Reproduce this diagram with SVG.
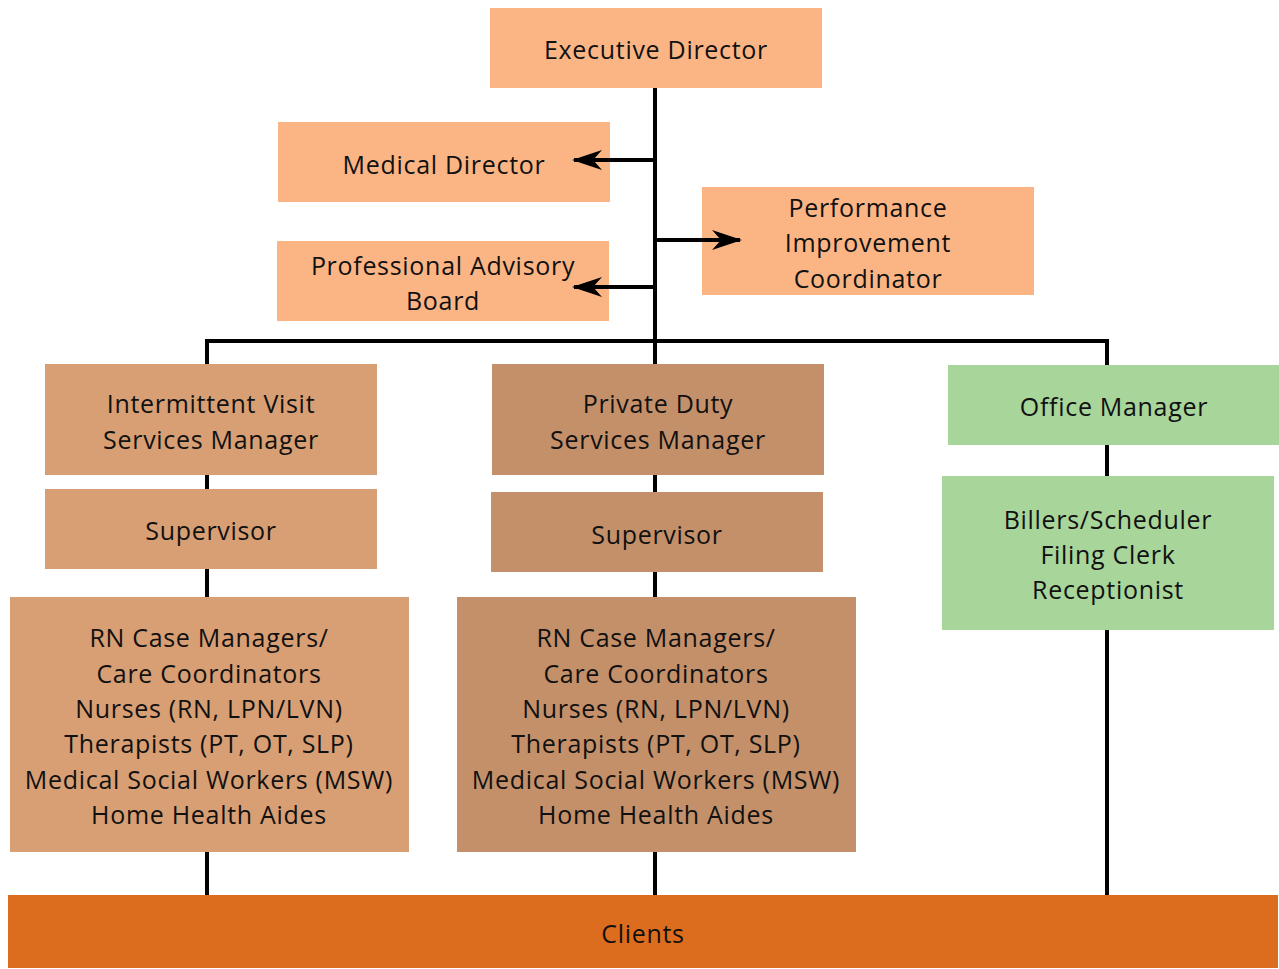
<svg xmlns="http://www.w3.org/2000/svg" width="1279" height="969" viewBox="0 0 1279 969">
<defs>
<style>
.t{font-family:"Open Sans","Noto Sans",sans-serif;font-size:25px;letter-spacing:0.7px;fill:#111;text-anchor:middle;dominant-baseline:central}
.peach{fill:#FBB584}
.tan{fill:#D89F74}
.brown{fill:#C4906A}
.green{fill:#A8D59A}
.ln{stroke:#000;stroke-width:4;fill:none}
</style>
<marker id="ah" viewBox="0 0 30 24" refX="28" refY="12" markerWidth="30" markerHeight="24" markerUnits="userSpaceOnUse" orient="auto">
<path d="M0,2 L30,12 L0,22 L9,12 Z" fill="#000"/>
</marker>
</defs>
<rect width="1279" height="969" fill="#fff"/>
<g id="executive-director"><rect class="peach" x="490" y="8" width="332" height="80"/><text class="t" x="656" y="49">Executive Director</text></g>
<g id="medical-director"><rect class="peach" x="278" y="122" width="332" height="80"/><text class="t" x="444" y="164">Medical Director</text></g>
<g id="professional-advisory-board"><rect class="peach" x="277" y="241" width="332" height="80"/><text class="t" x="443" y="265">Professional Advisory</text><text class="t" x="443" y="300">Board</text></g>
<g id="performance-improvement"><rect class="peach" x="702" y="187" width="332" height="108"/><text class="t" x="868" y="207">Performance</text><text class="t" x="868" y="242">Improvement</text><text class="t" x="868" y="278">Coordinator</text></g>
<g id="intermittent-manager"><rect class="tan" x="45" y="364" width="332" height="111"/><text class="t" x="211" y="403">Intermittent Visit</text><text class="t" x="211" y="439">Services Manager</text></g>
<g id="intermittent-supervisor"><rect class="tan" x="45" y="489" width="332" height="80"/><text class="t" x="211" y="530">Supervisor</text></g>
<g id="intermittent-staff"><rect class="tan" x="10" y="597" width="399" height="255"/>
<text class="t" x="209" y="637">RN Case Managers/</text><text class="t" x="209" y="673">Care Coordinators</text><text class="t" x="209" y="708">Nurses (RN, LPN/LVN)</text><text class="t" x="209" y="743">Therapists (PT, OT, SLP)</text><text class="t" x="209" y="779">Medical Social Workers (MSW)</text><text class="t" x="209" y="814">Home Health Aides</text></g>
<g id="private-manager"><rect class="brown" x="492" y="364" width="332" height="111"/><text class="t" x="658" y="403">Private Duty</text><text class="t" x="658" y="439">Services Manager</text></g>
<g id="private-supervisor"><rect class="brown" x="491" y="492" width="332" height="80"/><text class="t" x="657" y="534">Supervisor</text></g>
<g id="private-staff"><rect class="brown" x="457" y="597" width="399" height="255"/>
<text class="t" x="656" y="637">RN Case Managers/</text><text class="t" x="656" y="673">Care Coordinators</text><text class="t" x="656" y="708">Nurses (RN, LPN/LVN)</text><text class="t" x="656" y="743">Therapists (PT, OT, SLP)</text><text class="t" x="656" y="779">Medical Social Workers (MSW)</text><text class="t" x="656" y="814">Home Health Aides</text></g>
<g id="office-manager"><rect class="green" x="948" y="365" width="331" height="80"/><text class="t" x="1114" y="406">Office Manager</text></g>
<g id="office-staff"><rect class="green" x="942" y="476" width="332" height="154"/><text class="t" x="1108" y="519">Billers/Scheduler</text><text class="t" x="1108" y="554">Filing Clerk</text><text class="t" x="1108" y="589">Receptionist</text></g>
<g id="clients"><rect fill="#DD6D1E" x="8" y="895" width="1270" height="73"/><text class="t" x="643" y="933">Clients</text></g>
<g id="connectors">
<path class="ln" d="M655,88 V364 M655,475 V492 M655,572 V597 M655,852 V895"/>
<path class="ln" d="M207,341 H1107"/>
<path class="ln" d="M207,339 V364 M207,475 V489 M207,569 V597 M207,852 V895"/>
<path class="ln" d="M1107,339 V365 M1107,445 V476 M1107,630 V895"/>
<path class="ln" d="M655,160 H574" marker-end="url(#ah)"/>
<path class="ln" d="M655,287 H574" marker-end="url(#ah)"/>
<path class="ln" d="M655,240 H740" marker-end="url(#ah)"/>
</g>
</svg>
